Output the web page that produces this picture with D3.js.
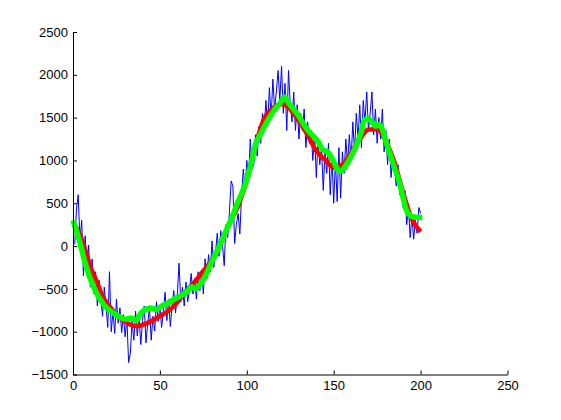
<!DOCTYPE html>
<html>
<head>
<meta charset="utf-8">
<script src="https://cdn.jsdelivr.net/npm/d3@7"></script>
<style>
  html, body { margin: 0; padding: 0; background: #ffffff; }
  svg { display: block; }
  .tick text { font-family: "Liberation Sans", Arial, sans-serif; font-size: 13px; fill: #000; }
</style>
</head>
<body>
<svg id="chart" width="561" height="420"></svg>
<script>
// ---- Data ----
const xTicks = [0, 50, 100, 150, 200, 250];
const yTicks = [-1500, -1000, -500, 0, 500, 1000, 1500, 2000, 2500];

// Noisy signal (blue), t = 1..200
const blueValues = [
  20, 430, 600, 60, 300, -350, 120, -220, 10, -480,
  -150, -560, -300, -700, -400, -620, -820, -480, -700, -950,
  -300, -1000, -760, -1020, -620, -900, -720, -1010, -800, -1060,
  -850, -1360, -1250, -880, -1100, -760, -1050, -820, -1150, -870,
  -700, -1130, -900, -720, -1100, -820, -990, -650, -880, -700,
  -950, -760, -540, -870, -620, -940, -700, -520, -780, -580,
  -200, -650, -480, -700, -420, -650, -520, -320, -560, -380,
  -620, -300, -520, -280, -560, -150, -380, -100, -300, 60,
  -250, -80, 150, -120, 180, 20, -230, 250, 100, 400,
  760, 700, 30, 250, 380, 140, 600, 900, 650, 1000,
  780, 1250, 900, 950, 1300, 1050, 1400, 1200, 1550, 1350,
  1700, 1400, 1850, 1500, 1950, 1600, 1800, 2050, 1700, 2100,
  1550, 1900, 1350, 2050, 1650, 1450, 1800, 1350, 1650, 1250,
  1550, 1350, 1600, 1150, 1450, 1200, 1350, 1000, 1300, 800,
  1250, 950, 1150, 650, 1100, 850, 1200, 600, 1050, 500,
  1000, 520, 1150, 560, 1100, 850, 1250, 950, 1300, 1000,
  1450, 1100, 1550, 1250, 1650, 1150, 1700, 1450, 1800, 1350,
  1550, 1800, 1300, 1600, 1200, 1500, 1250, 1600, 1100, 1350,
  950, 1250, 800, 1050, 900, 700, 950, 600, 750, 450,
  650, 250, 450, 100, 350, 80, 300, 150, 450, 380
];

// Underlying smooth signal (red)
const redT = [0, 2, 4, 6, 8, 10, 14, 17, 21, 26, 31, 37, 42, 50, 58, 65, 70, 75, 80, 85, 90, 95, 100, 105, 110, 115, 120, 125, 130, 135, 140, 145, 150, 155, 160, 165, 170, 175, 180, 185, 190, 195, 200];
const redV = [250, 210, 130, 20, -110, -240, -430, -586, -703, -820, -897, -937, -905, -820, -703, -528, -420, -290, -160, 40, 270, 465, 780, 1180, 1490, 1610, 1655, 1600, 1460, 1300, 1110, 1010, 915, 950, 1090, 1245, 1360, 1365, 1225, 975, 620, 310, 170];

// Smoothed estimate (green)
const greenT = [0, 2.3, 5, 7, 9, 11, 13, 15.7, 18.5, 22.4, 26.2, 30, 33.6, 36.6, 38.5, 41.3, 45, 48, 51, 54.7, 58.6, 62.4, 66.2, 68.4, 70.3, 72.3, 76, 80, 83.8, 87.6, 91.4, 94.3, 97.2, 100, 103, 105, 107.8, 110.7, 113.5, 116.4, 119.3, 121.6, 124, 127, 130, 132.8, 135.6, 138, 140.8, 143.7, 146.6, 149.4, 153.3, 155.2, 159, 162.8, 165.7, 167.6, 169.5, 172.4, 174, 176, 178, 180, 181.8, 184.7, 187.6, 189.5, 191.4, 193.3, 196.2, 201];
const greenV = [300, 158, -41, -200, -330, -430, -530, -625, -703, -770, -822, -855, -840, -870, -800, -745, -722, -742, -700, -664, -617, -575, -520, -475, -500, -470, -353, -177, -21, 154, 329, 485, 621, 777, 1010, 1186, 1302, 1419, 1516, 1606, 1673, 1740, 1673, 1595, 1516, 1419, 1341, 1290, 1225, 1127, 1100, 1010, 874, 893, 1010, 1166, 1322, 1470, 1490, 1440, 1400, 1419, 1361, 1225, 1108, 932, 757, 602, 446, 368, 340, 335];

// ---- Drawing ----
const svg = d3.select("#chart");
const plotLeft = 73, plotRight = 507.5, plotTop = 32, plotBottom = 374.5;

const x = d3.scaleLinear().domain([0, 250]).range([plotLeft, plotRight]);
const y = d3.scaleLinear().domain([-1500, 2500]).range([plotBottom, plotTop]);

const blueData = blueValues.map((v, i) => [i + 1, v]);
const redData = redT.map((t, i) => [t, redV[i]]);
const greenData = greenT.map((t, i) => [t, greenV[i]]);

const line = d3.line().x(d => x(d[0])).y(d => y(d[1]));
const smooth = d3.line().x(d => x(d[0])).y(d => y(d[1])).curve(d3.curveMonotoneX);

svg.append("path").datum(blueData)
  .attr("d", line).attr("fill", "none")
  .attr("stroke", "#0000ff").attr("stroke-width", 1);

svg.append("path").datum(redData)
  .attr("d", smooth).attr("fill", "none")
  .attr("stroke", "#ff0000").attr("stroke-width", 4.5)
  .attr("stroke-linejoin", "round");

svg.append("path").datum(greenData)
  .attr("d", smooth).attr("fill", "none")
  .attr("stroke", "#00ff00").attr("stroke-width", 5.5)
  .attr("stroke-linejoin", "round");

const xAxis = d3.axisBottom(x).tickValues(xTicks).tickFormat(d3.format("d"))
  .tickSizeInner(-4).tickSizeOuter(0).tickPadding(6);
const yAxis = d3.axisLeft(y).tickValues(yTicks).tickFormat(d3.format("d"))
  .tickSizeInner(-4).tickSizeOuter(0).tickPadding(5);

const gx = svg.append("g").attr("transform", `translate(0,${plotBottom})`).call(xAxis);
const gy = svg.append("g").attr("transform", `translate(${plotLeft},0)`).call(yAxis);

[gx, gy].forEach(g => {
  g.select(".domain").attr("stroke", "#000").attr("stroke-width", 1);
  g.selectAll(".tick line").attr("stroke", "#000");
});
</script>
</body>
</html>
